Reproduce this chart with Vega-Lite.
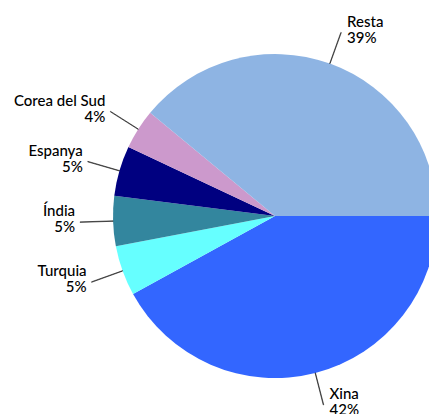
{
  "$schema": "https://vega.github.io/schema/vega-lite/v6.json",
  "width": 550,
  "height": 432,
  "padding": 0,
  "autosize": {"type": "none"},
  "background": "white",
  "view": {"stroke": null},
  "data": {"values": [
    {"pais": "Xina", "pct": 42},
    {"pais": "Turquia", "pct": 5},
    {"pais": "Índia", "pct": 5},
    {"pais": "Espanya", "pct": 5},
    {"pais": "Corea del Sud", "pct": 4},
    {"pais": "Resta", "pct": 39}
  ]},
  "transform": [
    {"window": [{"op": "row_number", "as": "idx"}, {"op": "sum", "field": "pct", "as": "cum"}], "frame": [null, 0]},
    {"calculate": "datum.cum - datum.pct/2", "as": "mid"},
    {"calculate": "datum.mid - 0.02", "as": "t0"},
    {"calculate": "datum.mid + 0.02", "as": "t1"},
    {"calculate": "[datum.pais, datum.pct + '%']", "as": "label"}
  ],
  "layer": [
    {
      "mark": {"type": "arc", "radius": 162},
      "encoding": {
        "theta": {"field": "pct", "type": "quantitative", "stack": true, "scale": {"domain": [0, 100], "range": [1.5708, 7.854]}},
        "order": {"field": "idx", "type": "quantitative"},
        "color": {"field": "pais", "type": "nominal", "legend": null,
          "scale": {"domain": ["Xina", "Turquia", "Índia", "Espanya", "Corea del Sud", "Resta"],
                    "range": ["#3366FF", "#66FFFF", "#33869E", "#000080", "#CC99CC", "#8EB4E3"]}}
      }
    },
    {
      "mark": {"type": "arc", "radius": 195, "radius2": 162, "fill": "transparent", "stroke": "black", "strokeWidth": 0.6},
      "encoding": {
        "theta": {"field": "t0", "type": "quantitative", "stack": null},
        "theta2": {"field": "t1"}
      }
    },
    {
      "transform": [{"filter": "datum.mid > 25 && datum.mid < 75"}],
      "mark": {"type": "text", "radius": 195, "align": "right", "dx": -5, "dy": -11, "baseline": "middle", "lineHeight": 16, "font": "Lato", "fontSize": 15, "fontWeight": 500, "color": "black"},
      "encoding": {
        "theta": {"field": "mid", "type": "quantitative", "stack": null},
        "text": {"field": "label"}
      }
    },
    {
      "transform": [{"filter": "!(datum.mid > 25 && datum.mid < 75)"}],
      "mark": {"type": "text", "radius": 195, "align": "left", "dx": 6, "dy": -11, "baseline": "middle", "lineHeight": 16, "font": "Lato", "fontSize": 15, "fontWeight": 500, "color": "black"},
      "encoding": {
        "theta": {"field": "mid", "type": "quantitative", "stack": null},
        "text": {"field": "label"}
      }
    }
  ]
}
